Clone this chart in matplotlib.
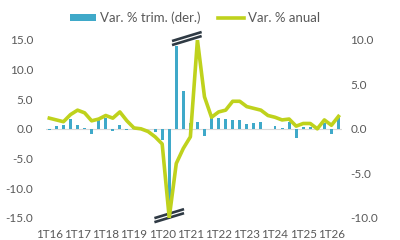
import numpy as np
import matplotlib
matplotlib.use('Agg')
import matplotlib.pyplot as plt
from matplotlib.ticker import FormatStrFormatter

plt.rcParams['font.family'] = ['Lato', 'DejaVu Sans']
plt.rcParams['axes.unicode_minus'] = False

# quarters 1T16 .. 2T26
quarters = [f'{q}T{y:02d}' for y in range(16, 27) for q in range(1, 5)][:42]

# Var. % trim. (der.)  -> left axis
qoq = [-0.2, 0.5, 0.6, 1.6, 0.7, 0.1, -0.8, 1.9, 1.9, -0.3,
       0.6, -0.2, 0.1, 0.0, 0.0, -0.5, -1.9, -15.0, 14.0, 6.4,
       1.0, 1.2, -1.2, 1.8, 1.9, 1.7, 1.5, 1.5, 0.8, 1.0,
       1.1, 0.0, 0.5, 0.1, 1.2, -1.6, 0.3, 0.3, 0.2, 1.0,
       -0.8, 2.0]

# Var. % anual -> right axis
yoy = [1.2, 1.0, 0.8, 1.6, 2.1, 1.8, 0.9, 1.1, 1.5, 1.2,
       1.9, 0.9, 0.1, 0.0, -0.3, -0.9, -1.7, -10.0, -3.9, -2.2,
       -0.9, 10.0, 3.6, 1.3, 1.9, 2.1, 3.1, 3.1, 2.5, 2.3,
       2.1, 1.5, 1.3, 1.0, 1.1, 0.3, 0.6, 0.6, 0.0, 1.0,
       0.4, 1.4]

blue = '#3fa9c9'
green = '#bfd21c'
grey = '#595959'
dark = '#2f3a44'

fig = plt.figure(figsize=(4, 2.4), dpi=100)
ax = fig.add_axes([0.1145, 0.093, 0.7405, 0.7405])
ax2 = ax.twinx()

x = np.arange(len(quarters))
ax.bar(x, qoq, width=0.42, color=blue, label='Var. % trim. (der.)', zorder=2)
ax.axhline(0, color='#d9d9d9', lw=0.8, zorder=1)
ax2.plot(x, yoy, color=green, lw=2.6, label='Var. % anual', solid_joinstyle='round', zorder=3)

ax.set_xlim(-0.5, len(quarters) - 0.5)
ax.set_ylim(-15, 15)
ax2.set_ylim(-10, 10)
ax.set_yticks(np.arange(-15, 16, 5))
ax2.set_yticks(np.arange(-10, 11, 5))
ax.yaxis.set_major_formatter(FormatStrFormatter('%.1f'))
ax2.yaxis.set_major_formatter(FormatStrFormatter('%.1f'))
ax.set_xticks(x[::4])
ax.set_xticklabels(quarters[::4])

for a in (ax, ax2):
    for s in a.spines.values():
        s.set_visible(False)
    a.tick_params(length=0, colors=grey, labelsize=8.5)
ax.tick_params(axis='y', pad=9)
ax2.tick_params(axis='y', pad=6)
ax.tick_params(axis='x', pad=8, labelsize=8.4)

# axis break marks (top at the big jumps, bottom at the big drop)
def break_mark(xc, yc):
    dx = 2.1
    dy = 0.76
    gap = 0.68
    ax.plot([xc - dx, xc + dx], [yc + gap / 2 - dy, yc + gap / 2 + dy],
            color='white', lw=5, clip_on=False, zorder=5, solid_capstyle='butt')
    for off in (0, gap):
        ax.plot([xc - dx, xc + dx], [yc + off - dy, yc + off + dy],
                color=dark, lw=1.9, clip_on=False, zorder=6, solid_capstyle='butt')

i_up = int(np.argmax(qoq))
i_yoy_up = int(np.argmax(yoy))
i_down = int(np.argmin(qoq))
break_mark((i_up + i_yoy_up) / 2, 14.9)
break_mark(i_down, -15.0)

h1, l1 = ax.get_legend_handles_labels()
h2, l2 = ax2.get_legend_handles_labels()
fig.legend(h1 + h2, l1 + l2, loc='center', bbox_to_anchor=(0.4875, 0.925), ncol=2,
           frameon=False, fontsize=9.5, labelcolor=grey, handlelength=2.0,
           handleheight=0.38, handletextpad=0.3, columnspacing=1.3)

fig.savefig('out.png', dpi=100)
